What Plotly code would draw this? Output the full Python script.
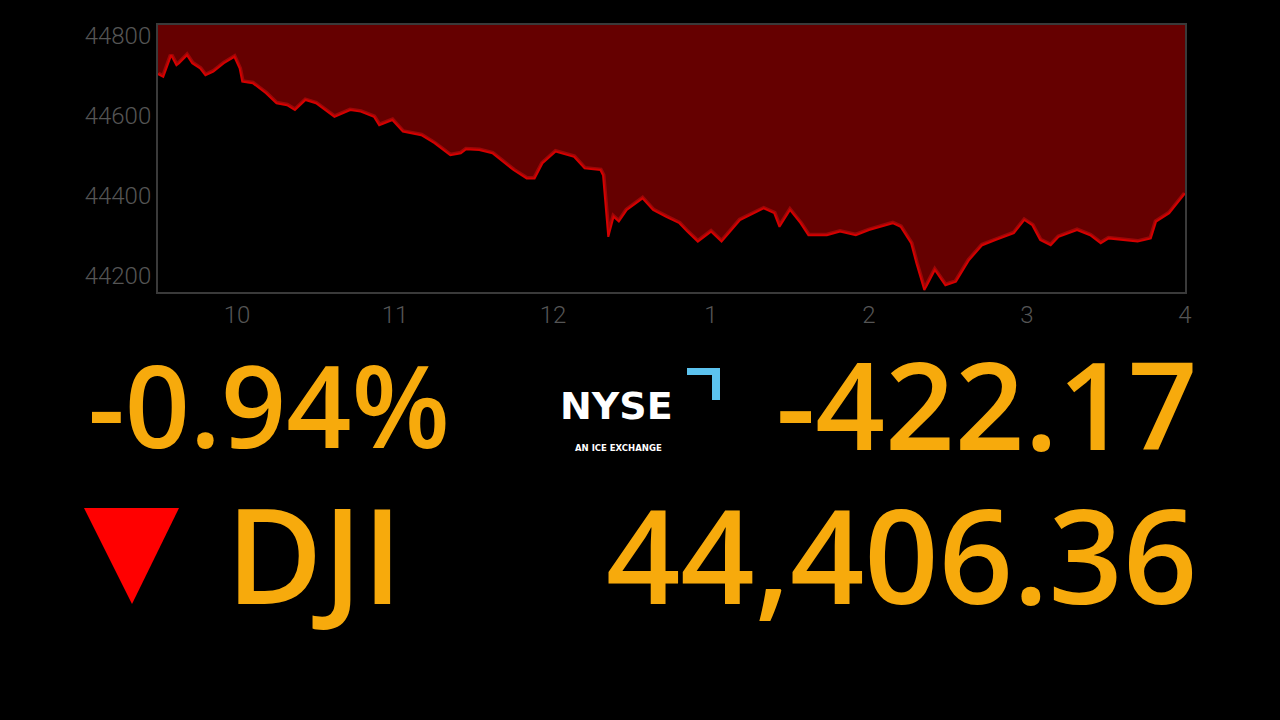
import plotly.graph_objects as go

# ---- data ----
minutes_after_open = [0, 2, 5, 7, 8, 11, 13, 16, 18, 21, 25, 29, 31, 32, 36, 41, 45, 49, 52, 56,
                      60, 67, 73, 77, 82, 84, 89, 93, 100, 105, 111, 115, 117, 122, 127, 135, 140,
                      143, 146, 151, 158, 162, 168, 169, 171, 173, 175, 178, 184, 188, 193, 198,
                      201, 205, 210, 214, 221, 230, 234, 236, 240, 244, 247, 254, 259, 265, 270,
                      274, 279, 282, 286, 288, 291, 292, 295, 299, 303, 308, 313, 318, 325, 329,
                      332, 335, 339, 342, 349, 354, 358, 361, 368, 372, 377, 379, 384, 388, 390]
dji_values = [44705, 44698, 44752, 44727, 44732, 44752, 44732, 44719, 44702, 44711, 44732, 44748,
              44719, 44686, 44682, 44657, 44632, 44627, 44615, 44640, 44632, 44598, 44615, 44611,
              44598, 44577, 44590, 44561, 44552, 44532, 44502, 44507, 44517, 44515, 44507, 44465,
              44444, 44444, 44482, 44511, 44498, 44469, 44465, 44452, 44298, 44348, 44336, 44365,
              44394, 44365, 44348, 44332, 44311, 44286, 44311, 44286, 44340, 44369, 44357, 44323,
              44365, 44332, 44302, 44302, 44311, 44302, 44315, 44323, 44332, 44323, 44282, 44232,
              44165, 44177, 44215, 44177, 44186, 44240, 44277, 44290, 44307, 44340, 44327, 44290,
              44277, 44298, 44315, 44302, 44282, 44294, 44290, 44286, 44294, 44336, 44357, 44390,
              44406.36]

x_tick_vals = [10, 11, 12, 13, 14, 15, 16]
x_tick_text = ["10", "11", "12", "1", "2", "3", "4"]
y_tick_vals = [44200, 44400, 44600, 44800]
y_tick_text = ["44200", "44400", "44600", "44800"]

pct_change = "-0.94%"
pt_change = "-422.17"
index_name = "DJI"
last_value = "44,406.36"

OPEN_HOUR = 9.5
hours = [OPEN_HOUR + m / 60 for m in minutes_after_open]

# ---- layout geometry ----
W, H = 1280, 720
L, R, T, B = 158, 1185, 25, 292


def px(x):
    return (x - L) / (R - L)


def py(y):
    return (B - y) / (B - T)


ORANGE = "#F7AA0C"
FONT = "Open Sans"

fig = go.Figure()
# soft glow under the line
fig.add_trace(go.Scatter(x=hours, y=dji_values, mode="lines",
                         line=dict(color="rgba(255,20,20,0.35)", width=5),
                         hoverinfo="skip", showlegend=False))
fig.add_trace(go.Scatter(x=hours, y=dji_values, mode="lines",
                         line=dict(color="#d40000", width=2),
                         fill="tozeroy", fillcolor="#000000",
                         hoverinfo="skip", showlegend=False))

annotations = [
    dict(text=pct_change, x=px(86), y=py(403), xanchor="left", yanchor="middle",
         font=dict(family=FONT, size=114, color=ORANGE, weight=600)),
    dict(text=pt_change, x=px(1199), y=py(403), xanchor="right", yanchor="middle",
         font=dict(family=FONT, size=122, color=ORANGE, weight=600)),
    dict(text=index_name, x=px(224), y=py(553), xanchor="left", yanchor="middle",
         font=dict(family=FONT, size=132, color=ORANGE, weight=600)),
    dict(text=last_value, x=px(1199), y=py(553), xanchor="right", yanchor="middle",
         font=dict(family=FONT, size=130, color=ORANGE, weight=600)),
    dict(text="NYSE", x=px(558), y=py(406), xanchor="left", yanchor="middle",
         font=dict(family="DejaVu Sans", size=38, color="#ffffff", weight=700)),
    dict(text="AN ICE EXCHANGE", x=px(573), y=py(448), xanchor="left", yanchor="middle",
         font=dict(family="DejaVu Sans", size=8.5, color="#ffffff", weight=700)),
]
for a in annotations:
    a.update(xref="paper", yref="paper", showarrow=False)

shapes = [
    # red down triangle
    dict(type="path", xref="paper", yref="paper",
         path=f"M {px(84)},{py(508)} L {px(179)},{py(508)} L {px(132)},{py(604)} Z",
         fillcolor="#ff0000", line=dict(width=0)),
    # NYSE blue corner mark
    dict(type="rect", xref="paper", yref="paper", x0=px(687), x1=px(720), y0=py(368), y1=py(375),
         fillcolor="#5cc3ef", line=dict(width=0)),
    dict(type="rect", xref="paper", yref="paper", x0=px(712), x1=px(720), y0=py(368), y1=py(400),
         fillcolor="#5cc3ef", line=dict(width=0)),
]

fig.update_layout(
    width=W, height=H,
    margin=dict(l=L, r=W - R, t=T, b=H - B),
    paper_bgcolor="#000000",
    plot_bgcolor="#650000",
    showlegend=False,
    annotations=annotations,
    shapes=shapes,
    font=dict(family="Roboto", color="#555555", size=24),
)
fig.update_xaxes(range=[OPEN_HOUR, 16], tickvals=x_tick_vals, ticktext=x_tick_text,
                 showgrid=False, zeroline=False, showline=True, mirror=True,
                 linecolor="#3a3a3a", linewidth=2, ticks="",
                 tickfont=dict(family="Roboto", size=24, color="#555555", weight=300))
fig.update_yaxes(range=[44160, 44827.5], tickvals=y_tick_vals, ticktext=y_tick_text,
                 showgrid=False, zeroline=False, showline=True, mirror=True,
                 linecolor="#3a3a3a", linewidth=2, ticks="",
                 tickfont=dict(family="Roboto", size=24, color="#555555", weight=300))

fig.write_html("out.html",
               config={"displayModeBar": False},
               post_script="document.body.style.margin='0';"
                           "document.body.style.background='#000';")
